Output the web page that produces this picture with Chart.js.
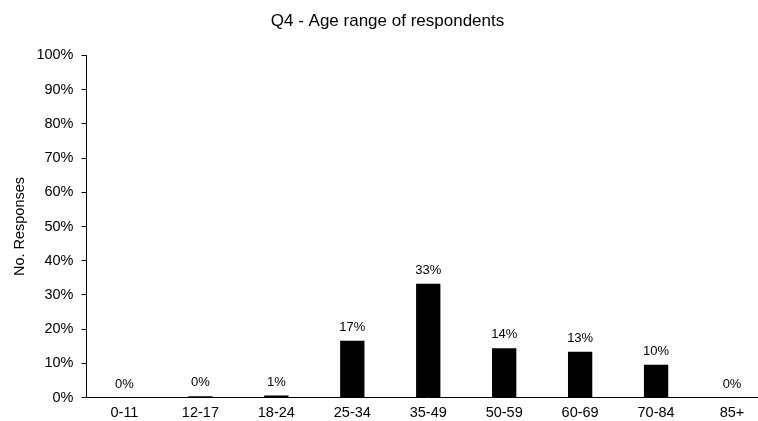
<!DOCTYPE html>
<html>
<head>
<meta charset="utf-8">
<script src="https://cdn.jsdelivr.net/npm/chart.js@4"></script>
<style>
  html, body { margin: 0; padding: 0; background: #fff; }
  /* plot runs a bit past the right and bottom edge in the original, so the canvas is clipped */
  #wrap { width: 758px; height: 421px; overflow: hidden; }
</style>
</head>
<body>
<div id="wrap"><canvas id="ageChart" width="770" height="429"></canvas></div>
<script>
const categories = ["0-11", "12-17", "18-24", "25-34", "35-49", "50-59", "60-69", "70-84", "85+"];
const responses = [0, 0.4, 0.6, 16.6, 33.3, 14.4, 13.4, 9.6, 0];
const yTicks = [0, 10, 20, 30, 40, 50, 60, 70, 80, 90, 100];

const FONT = "'Liberation Sans', Arial, sans-serif";

// labels on top of bars
const barLabels = {
  id: "barLabels",
  afterDatasetsDraw(chart) {
    const ctx = chart.ctx;
    const meta = chart.getDatasetMeta(0);
    ctx.save();
    ctx.font = "13px " + FONT;
    ctx.fillStyle = "#000";
    ctx.textAlign = "center";
    ctx.textBaseline = "bottom";
    meta.data.forEach((bar, i) => {
      ctx.fillText(Math.round(responses[i]) + "%", bar.x, bar.y - 7);
    });
    ctx.restore();
  }
};

new Chart(document.getElementById("ageChart"), {
  type: "bar",
  data: {
    labels: categories,
    datasets: [{
      label: "No. Responses",
      data: responses,
      backgroundColor: "#000",
      borderWidth: 0,
      categoryPercentage: 1,
      barPercentage: 0.32
    }]
  },
  options: {
    responsive: false,
    animation: false,
    layout: { padding: { left: 5, right: 0, top: 2, bottom: 0 } },
    plugins: {
      legend: { display: false },
      tooltip: { enabled: false },
      title: {
        display: true,
        text: "Q4 - Age range of respondents",
        color: "#000",
        font: { family: FONT, size: 17, weight: "normal" },
        padding: { top: 9, bottom: 24 }
      }
    },
    scales: {
      x: {
        grid: { display: false, drawTicks: false },
        border: { display: true, color: "#000", width: 1 },
        ticks: { color: "#000", font: { family: FONT, size: 14.5 }, padding: 7, maxRotation: 0 }
      },
      y: {
        min: 0,
        max: 100,
        afterBuildTicks(axis) { axis.ticks = yTicks.map(v => ({ value: v })); },
        grid: { display: true, drawOnChartArea: false, drawTicks: true, tickLength: 5, color: "#000" },
        border: { display: true, color: "#000", width: 1 },
        ticks: { color: "#000", font: { family: FONT, size: 14.5 }, padding: 8, callback: v => v + "%" },
        title: {
          display: true,
          text: "No. Responses",
          color: "#000",
          font: { family: FONT, size: 14.5 },
          padding: { top: 6, bottom: 0 }
        }
      }
    }
  },
  plugins: [barLabels]
});
</script>
</body>
</html>
